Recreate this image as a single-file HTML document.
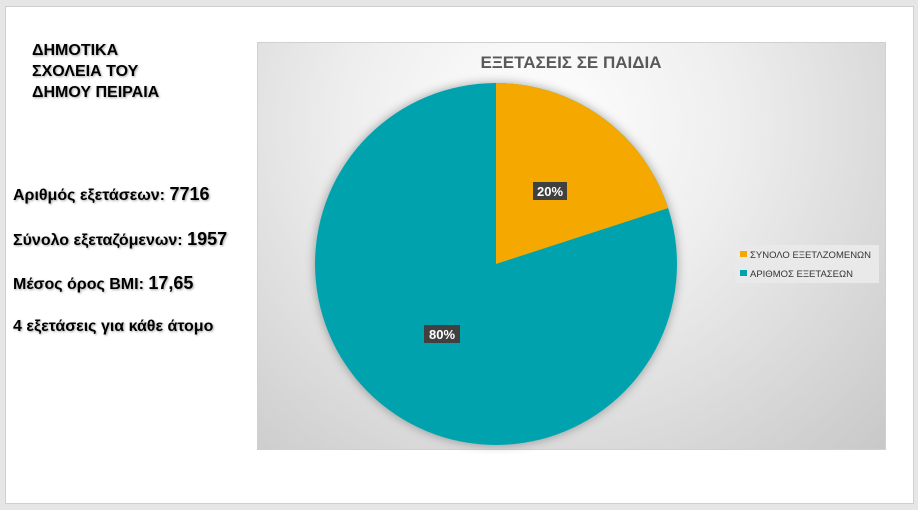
<!DOCTYPE html>
<html><head><meta charset="utf-8"><style>
body{margin:0;width:918px;height:510px;background:#e6e6e6;position:relative;overflow:hidden;font-family:"Liberation Sans","DejaVu Sans",sans-serif}
#slide{position:absolute;left:5px;top:6px;width:907px;height:496px;background:#fff;border:1px solid #cfcfcf}
.t{position:absolute;font-weight:bold;color:#000;text-shadow:1px 1px 2px rgba(0,0,0,.35)}
#chart{position:absolute;left:257px;top:42px;width:629px;height:408px;background:radial-gradient(ellipse at 45% 20%,#ffffff 0%,#eeeeee 40%,#c8c8c8 100%);border:1px solid #d0d0d0;box-sizing:border-box}
</style></head><body>
<div id="slide"></div>
<div class="t" style="left:32px;top:40px;font-size:16px;line-height:21px">ΔΗΜΟΤΙΚΑ<br>ΣΧΟΛΕΙΑ ΤΟΥ<br>ΔΗΜΟΥ ΠΕΙΡΑΙΑ</div>
<div class="t" style="left:13px;top:184px;font-size:16px">Αριθμός εξετάσεων: <span style="font-size:18px">7716</span></div>
<div class="t" style="left:13px;top:229px;font-size:16px">Σύνολο εξεταζόμενων: <span style="font-size:18px">1957</span></div>
<div class="t" style="left:13px;top:273px;font-size:16px">Μέσος όρος BMI: <span style="font-size:18px">17,65</span></div>
<div class="t" style="left:13px;top:318px;font-size:16px">4 εξετάσεις για κάθε άτομο</div>
<div id="chart"></div>
<svg style="position:absolute;left:0;top:0" width="918" height="510">
<defs><filter id="sh" x="-20%" y="-20%" width="140%" height="140%"><feDropShadow dx="0" dy="0" stdDeviation="5" flood-color="#000" flood-opacity="0.35"/></filter></defs>
<text x="571" y="68" text-anchor="middle" font-size="17" font-weight="bold" fill="#595959" font-family="Liberation Sans, DejaVu Sans, sans-serif">ΕΞΕΤΑΣΕΙΣ ΣΕ ΠΑΙΔΙΑ</text>
<g filter="url(#sh)">
<circle cx="496" cy="264" r="181" fill="#00a3ad"/>
<path d="M496,264 L496,83 A181,181 0 0,1 668.1,208.1 Z" fill="#f5a800"/>
</g>
<rect x="533" y="182" width="34" height="18" fill="#404040"/>
<text x="550" y="196" text-anchor="middle" font-size="13" font-weight="bold" fill="#fff" font-family="Liberation Sans, sans-serif">20%</text>
<rect x="424" y="325" width="36" height="18" fill="#404040"/>
<text x="442" y="339" text-anchor="middle" font-size="13" font-weight="bold" fill="#fff" font-family="Liberation Sans, sans-serif">80%</text>
<rect x="735" y="245" width="144" height="38" fill="#e9e9e9"/>
<rect x="740" y="251" width="7" height="6" fill="#f5a800"/>
<text x="750" y="258" font-size="9.5" fill="#333" font-family="Liberation Sans, DejaVu Sans, sans-serif">ΣΥΝΟΛΟ ΕΞΕΤΛΖΟΜΕΝΩΝ</text>
<rect x="740" y="270" width="7" height="6" fill="#00a3ad"/>
<text x="750" y="277" font-size="9.5" fill="#333" font-family="Liberation Sans, DejaVu Sans, sans-serif">ΑΡΙΘΜΟΣ ΕΞΕΤΑΣΕΩΝ</text>
</svg>
</body></html>
